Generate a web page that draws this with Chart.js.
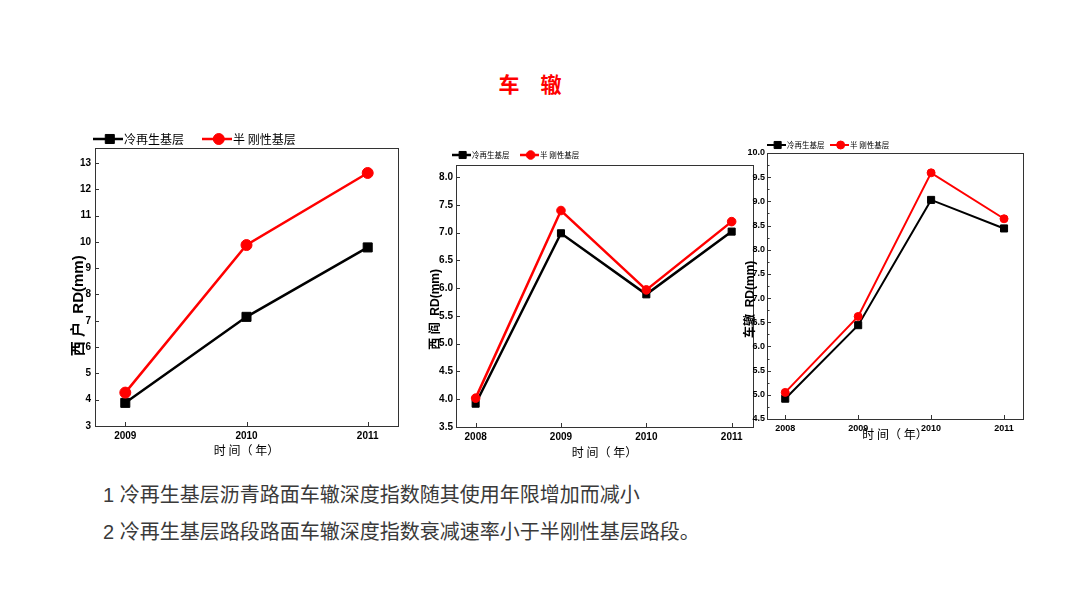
<!DOCTYPE html>
<html>
<head>
<meta charset="utf-8">
<script src="https://cdn.jsdelivr.net/npm/chart.js@4.4.1/dist/chart.umd.min.js"></script>
<style>
    body { margin: 0; width: 1080px; height: 607px; background: #fff; position: relative; overflow: hidden; }
    canvas { position: absolute; }
    #title { position: absolute; left: 0; width: 1060px; top: 68px; text-align: center; color: #f00;
             font: bold 21px "Noto Sans CJK SC", sans-serif; line-height: 30px; }
    .note { position: absolute; left: 103px; color: #3a3a3a; font: 20px "Liberation Sans", "Noto Sans CJK SC", sans-serif;
            line-height: 24px; white-space: nowrap; }
</style>
</head>
<body>
<div id="title">车　辙</div>
<canvas id="chartA" width="350" height="345" style="left:60px;top:120px"></canvas>
<canvas id="chartB" width="345" height="330" style="left:420px;top:140px"></canvas>
<canvas id="chartC" width="300" height="325" style="left:738px;top:125px"></canvas>
<div class="note" style="top:483px">1 冷再生基层沥青路面车辙深度指数随其使用年限增加而减小</div>
<div class="note" style="top:520px">2 冷再生基层路段路面车辙深度指数衰减速率小于半刚性基层路段。</div>

<script>
const seriesNames = ['冷再生基层', '半 刚性基层'];
const xTitle = '时 间（ 年）';
const yTitles = ['西 户  RD(mm)', '西 阎  RD(mm)', '车辙  RD(mm)'];

// 左图
const yearsA = [2009, 2010, 2011];
const coldA = [3.88, 7.15, 9.79];
const semiA = [4.27, 9.88, 12.62];
const yTicksA = [3, 4, 5, 6, 7, 8, 9, 10, 11, 12, 13];

// 中图
const yearsB = [2008, 2009, 2010, 2011];
const coldB = [3.92, 6.99, 5.89, 7.02];
const semiB = [4.02, 7.40, 5.97, 7.20];
const yTicksB = [3.5, 4.0, 4.5, 5.0, 5.5, 6.0, 6.5, 7.0, 7.5, 8.0];

// 右图
const yearsC = [2008, 2009, 2010, 2011];
const coldC = [4.92, 6.44, 9.03, 8.44];
const semiC = [5.05, 6.62, 9.59, 8.64];
const yTicksC = [4.5, 5.0, 5.5, 6.0, 6.5, 7.0, 7.5, 8.0, 8.5, 9.0, 9.5, 10.0];

const tickFamily = "'Liberation Sans Narrow', 'Liberation Sans', Arial, sans-serif";
const titleFamily = "'Liberation Sans', 'Noto Sans CJK SC', sans-serif";

function drawMarker(ctx, style, r, x, y) {
    ctx.beginPath();
    if (style === 'rect') {
        const s = r * Math.SQRT1_2;
        ctx.rect(x - s, y - s, 2 * s, 2 * s);
    } else {
        ctx.arc(x, y, r, 0, Math.PI * 2);
    }
    ctx.fill();
    ctx.stroke();
}

const boxPlugin = {
    id: 'box',
    beforeDatasetsDraw(chart, args, opts) {
        const { ctx, chartArea: a, scales: { x, y } } = chart;
        ctx.save();
        ctx.strokeStyle = '#333';
        ctx.lineWidth = 1;
        ctx.strokeRect(Math.round(a.left) + 0.5, Math.round(a.top) + 0.5, Math.round(a.width), Math.round(a.height));
        ctx.beginPath();
        x.ticks.forEach(t => {
            const px = Math.round(x.getPixelForValue(t.value)) + 0.5;
            ctx.moveTo(px, a.bottom);
            ctx.lineTo(px, a.bottom - 4);
        });
        y.ticks.forEach((t, i) => {
            const py = Math.round(y.getPixelForValue(t.value)) + 0.5;
            ctx.moveTo(a.left, py);
            ctx.lineTo(a.left + 4, py);
            if (opts.minor && i > 0) {
                const pm = Math.round(y.getPixelForValue((t.value + y.ticks[i - 1].value) / 2)) + 0.5;
                ctx.moveTo(a.left, pm);
                ctx.lineTo(a.left + 2.5, pm);
            }
        });
        ctx.stroke();
        ctx.restore();
    },
    afterDraw(chart, args, opts) {
        const lg = opts.legend;
        const { ctx } = chart;
        ctx.save();
        [0, 1].forEach(i => {
            const ds = chart.data.datasets.find(d => d.legendIndex === i);
            const x0 = lg.x + i * lg.step;
            ctx.strokeStyle = ds.borderColor;
            ctx.lineWidth = ds.borderWidth;
            ctx.beginPath();
            ctx.moveTo(x0, lg.y);
            ctx.lineTo(x0 + lg.len, lg.y);
            ctx.stroke();
            ctx.fillStyle = ds.pointBackgroundColor;
            ctx.lineWidth = 1;
            drawMarker(ctx, ds.pointStyle, ds.pointRadius, x0 + lg.len * 0.56, lg.y);
            ctx.fillStyle = '#000';
            ctx.font = lg.font;
            ctx.textBaseline = 'middle';
            ctx.fillText(ds.label, x0 + lg.len + 1, lg.y + 0.5);
        });
        ctx.restore();
    }
};

function buildChart(id, c) {
    const toPoints = vals => c.years.map((yr, i) => ({ x: yr, y: vals[i] }));
    return new Chart(document.getElementById(id), {
        type: 'line',
        data: {
            datasets: [
                {
                    label: seriesNames[0], legendIndex: 0, order: 2,
                    data: toPoints(c.cold),
                    borderColor: '#000', backgroundColor: '#000', pointBackgroundColor: '#000',
                    borderWidth: c.lw, pointStyle: 'rect', pointRadius: c.rectR, pointBorderWidth: 1
                },
                {
                    label: seriesNames[1], legendIndex: 1, order: 1,
                    data: toPoints(c.semi),
                    borderColor: '#f00', backgroundColor: '#f00', pointBackgroundColor: '#f00',
                    borderWidth: c.lw, pointStyle: 'circle', pointRadius: c.circR, pointBorderWidth: 1
                }
            ]
        },
        options: {
            responsive: false,
            animation: false,
            layout: { padding: c.pad },
            plugins: {
                legend: { display: false },
                tooltip: { enabled: false },
                box: { legend: c.legend, minor: c.minor }
            },
            scales: {
                x: {
                    type: 'linear', min: c.xMin, max: c.xMax,
                    afterBuildTicks: s => { s.ticks = c.years.map(v => ({ value: v })); },
                    afterFit: s => { s.height = c.xH; },
                    grid: { display: false, drawTicks: false },
                    border: { display: false },
                    ticks: {
                        callback: v => String(v), color: '#000', padding: 4,
                        maxRotation: 0, autoSkip: false,
                        font: { family: tickFamily, size: c.tickSize, weight: 'bold' }
                    },
                    title: {
                        display: true, text: xTitle, color: '#000', padding: 0,
                        font: { family: "'Noto Sans CJK SC', sans-serif", size: 12 }
                    }
                },
                y: {
                    type: 'linear', min: c.yMin, max: c.yMax,
                    afterBuildTicks: s => { s.ticks = c.yTicks.map(v => ({ value: v })); },
                    afterFit: s => { s.width = c.yW; },
                    grid: { display: false, drawTicks: false },
                    border: { display: false },
                    ticks: {
                        callback: v => c.dec ? v.toFixed(1) : String(v), color: '#000', padding: c.yPad,
                        autoSkip: false,
                        font: { family: tickFamily, size: c.tickSize, weight: 'bold' }
                    },
                    title: {
                        display: true, text: c.yTitle + ' '.repeat(c.shift), color: '#000', padding: 0,
                        font: { family: titleFamily, size: c.yTitleSize, weight: 'bold' }
                    }
                }
            }
        },
        plugins: [boxPlugin]
    });
}

buildChart('chartA', {
    years: yearsA, cold: coldA, semi: semiA, yTicks: yTicksA, dec: false,
    xMin: 2008.75, xMax: 2011.25, yMin: 3, yMax: 13.57,
    pad: { left: 10, top: 28, right: 12, bottom: 7 }, yW: 25, xH: 32, yPad: 4,
    tickSize: 10, yTitle: yTitles[0], yTitleSize: 15, shift: 9,
    lw: 2.5, rectR: 6.4, circR: 5.5, minor: false,
    legend: { x: 33, y: 19, len: 30, step: 109, font: "12px 'Noto Sans CJK SC', sans-serif" }
});

buildChart('chartB', {
    years: yearsB, cold: coldB, semi: semiB, yTicks: yTicksB, dec: true,
    xMin: 2007.77, xMax: 2011.25, yMin: 3.5, yMax: 8.22,
    pad: { left: 8, top: 25, right: 12, bottom: 10 }, yW: 28, xH: 33, yPad: 3,
    tickSize: 10, yTitle: yTitles[1], yTitleSize: 12, shift: 8,
    lw: 2.5, rectR: 5, circR: 4.3, minor: false,
    legend: { x: 32, y: 15, len: 19, step: 68, font: "7.5px 'Noto Sans CJK SC', sans-serif" }
});

buildChart('chartC', {
    years: yearsC, cold: coldC, semi: semiC, yTicks: yTicksC, dec: true,
    xMin: 2007.75, xMax: 2011.26, yMin: 4.5, yMax: 10.0,
    pad: { left: 5, top: 28, right: 15, bottom: 8 }, yW: 24, xH: 23, yPad: 2,
    tickSize: 9, yTitle: yTitles[2], yTitleSize: 12, shift: 8,
    lw: 2, rectR: 5, circR: 4, minor: true,
    legend: { x: 29, y: 20, len: 19, step: 63, font: "7.5px 'Noto Sans CJK SC', sans-serif" }
});
</script>
</body>
</html>
